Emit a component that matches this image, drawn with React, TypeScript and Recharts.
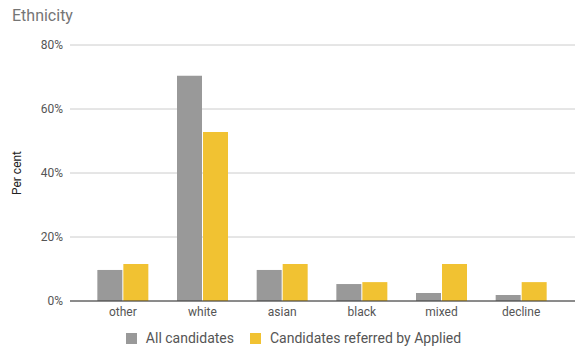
import React from 'react';
import { BarChart, Bar, XAxis, YAxis, CartesianGrid, Legend, ReferenceLine } from 'recharts';

const categories = ['other', 'white', 'asian', 'black', 'mixed', 'decline'];
const allCandidates = [9.7, 70.4, 9.7, 5.3, 2.5, 1.9];
const referredByApplied = [11.6, 52.8, 11.6, 5.9, 11.6, 5.9];
const yTicks = [0, 20, 40, 60, 80];
const seriesNames = ['All candidates', 'Candidates referred by Applied'];
const seriesColors = ['#999999', '#f1c232'];

const data = categories.map((c, i) => ({
  name: c,
  all: allCandidates[i],
  referred: referredByApplied[i],
}));

const FONT = 'Roboto, "Noto Sans", sans-serif';

const renderLegend = (props: any) => {
  const { payload } = props;
  return (
    <div style={{ display: 'flex', justifyContent: 'center', alignItems: 'center', fontFamily: FONT, fontSize: 14, color: '#555', height: 22, marginLeft: 12, position: 'relative', top: 2 }}>
      {payload.map((p: any, i: number) => (
        <div key={i} style={{ display: 'flex', alignItems: 'center', marginRight: i === 0 ? 16 : 0 }}>
          <span style={{ display: 'inline-block', width: 11, height: 11, background: p.color, marginRight: 9 }} />
          <span>{p.value}</span>
        </div>
      ))}
    </div>
  );
};

export default function App() {
  return (
    <div style={{ position: 'absolute', left: 0, top: 0, width: 586, height: 355, background: '#fff' }}>
      <div style={{ position: 'absolute', left: 12, top: 6, fontFamily: FONT, fontSize: 16, color: '#757575' }}>Ethnicity</div>
      <BarChart
        width={586}
        height={355}
        data={data}
        margin={{ top: 45, right: 11, left: 0, bottom: 8 }}
        barCategoryGap="18%"
        barGap={1}
      >
        <CartesianGrid vertical={false} stroke="#cccccc" />
        <XAxis
          dataKey="name"
          axisLine={false}
          tickLine={false}
          tickSize={0}
          tickMargin={6}
          height={24}
          padding={{ left: 13, right: 14 }}
          tick={{ fill: '#555', fontSize: 12, fontFamily: FONT }}
          interval={0}
        />
        <YAxis
          domain={[0, 80]}
          ticks={yTicks}
          width={70}
          axisLine={false}
          tickLine={false}
          tickSize={0}
          tickMargin={7}
          tickFormatter={(v: number) => `${v}%`}
          tick={{ fill: '#555', fontSize: 12, fontFamily: FONT }}
          label={{ value: 'Per cent', angle: -90, position: 'insideLeft', offset: 17, style: { fill: '#222', fontSize: 12, fontFamily: FONT, textAnchor: 'middle' } }}
        />
        <ReferenceLine y={0} stroke="#333" strokeWidth={1} />
        <Legend verticalAlign="bottom" content={renderLegend} />
        <Bar dataKey="all" name={seriesNames[0]} fill={seriesColors[0]} isAnimationActive={false} />
        <Bar dataKey="referred" name={seriesNames[1]} fill={seriesColors[1]} isAnimationActive={false} />
      </BarChart>
    </div>
  );
}
